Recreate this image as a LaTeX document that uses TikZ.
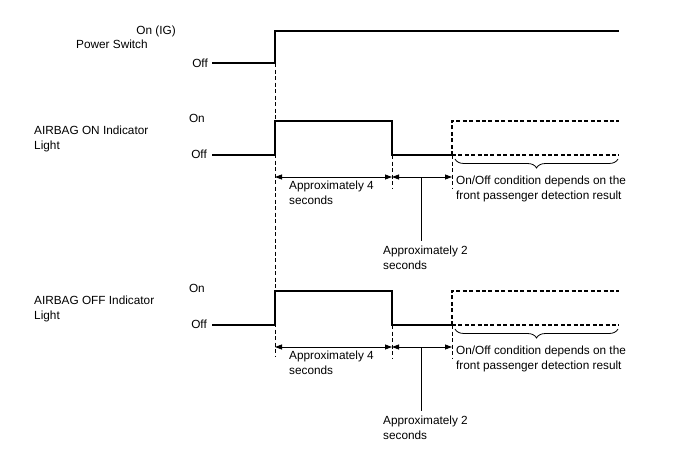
\documentclass[tikz,border=0pt]{standalone}
\usepackage{fontspec}
\setmainfont{Liberation Sans}
\usetikzlibrary{arrows.meta,decorations.pathreplacing}
\begin{document}
\begin{tikzpicture}[x=1pt,y=-1pt,
  lbl/.style={font=\fontsize{11.8}{15}\selectfont,inner sep=0pt,align=left},
  sig/.style={line width=2.6pt,line join=miter},
  sigdash/.style={line width=2.6pt,dash pattern=on 4pt off 2.4pt},
  guide/.style={line width=0.6pt,dash pattern=on 4pt off 2.5pt},
  dim/.style={line width=0.8pt,{Triangle[length=7pt,width=5pt]}-{Triangle[length=7pt,width=5pt]}},
  pointer/.style={line width=0.8pt},
  brc/.style={line width=0.8pt,decorate,decoration={brace,mirror,amplitude=9pt}}]
\useasboundingbox (0,0) rectangle (688,463);
% Power switch
\node[lbl,anchor=west] (ps) at (76,44) {Power Switch};
\node[lbl,anchor=east] (pson) at (176,31) {On (IG)};
\node[lbl,anchor=east] (psoff) at (208,63) {Off};
\coordinate (p0) at (212,63);
\coordinate (p1) at (275,63);
\coordinate (p2) at (275,31);
\coordinate (p3) at (619,31);
\draw[sig] (p0) -- (p1) -- (p2) -- (p3);
\coordinate (g1) at (275,357);
\draw[guide] (p1) -- (g1);
% indicator blocks
\foreach \name/\dy/\txt in {A/0/AIRBAG ON Indicator, B/170/AIRBAG OFF Indicator}{
  \begin{scope}[yshift=-\dy pt]
  \node[lbl,anchor=west] (\name lab) at (34,139) {\txt\\Light};
  \node[lbl,anchor=east] (\name on) at (205,118) {On};
  \node[lbl,anchor=east] (\name off) at (207,154) {Off};
  \coordinate (\name0) at (212,155);
  \coordinate (\name1) at (275,155);
  \coordinate (\name2) at (275,121);
  \coordinate (\name3) at (392,121);
  \coordinate (\name4) at (392,155);
  \coordinate (\name5) at (452,155);
  \coordinate (\name6) at (452,121);
  \coordinate (\name7) at (619,121);
  \coordinate (\name8) at (619,155);
  \draw[sig] (\name0) -- (\name1) -- (\name2) -- (\name3) -- (\name4) -- (\name5);
  \draw[sigdash] (\name5) -- (\name6) -- (\name7);
  \draw[sigdash] (\name5) -- (\name8);
  \coordinate (\name g4) at (392,188);
  \coordinate (\name g5) at (452,188);
  \draw[guide] (\name4) -- (\name g4);
  \draw[guide] (\name5) -- (\name g5);
  \coordinate (\name a1) at (275,177);
  \coordinate (\name a2) at (392,177);
  \coordinate (\name a3) at (452,177);
  \draw[dim] (\name a1) -- (\name a2);
  \draw[dim] (\name a2) -- (\name a3);
  \coordinate (\name pt) at (421,177);
  \coordinate (\name pe) at (421,241);
  \draw[pointer] (\name pt) -- (\name pe);
  \node[lbl,anchor=north west] (\name t4) at (289,181) {Approximately 4\\seconds};
  \node[lbl,anchor=north west] (\name t2) at (383,246) {Approximately 2\\seconds};
  \coordinate (\name b1) at (455,159);
  \coordinate (\name b2) at (618,159);
  \draw[brc] (\name b1) -- (\name b2);
  \node[lbl,anchor=north west] (\name tc) at (456,176) {On/Off condition depends on the\\front passenger detection result};
  \end{scope}
}
\end{tikzpicture}
\end{document}
